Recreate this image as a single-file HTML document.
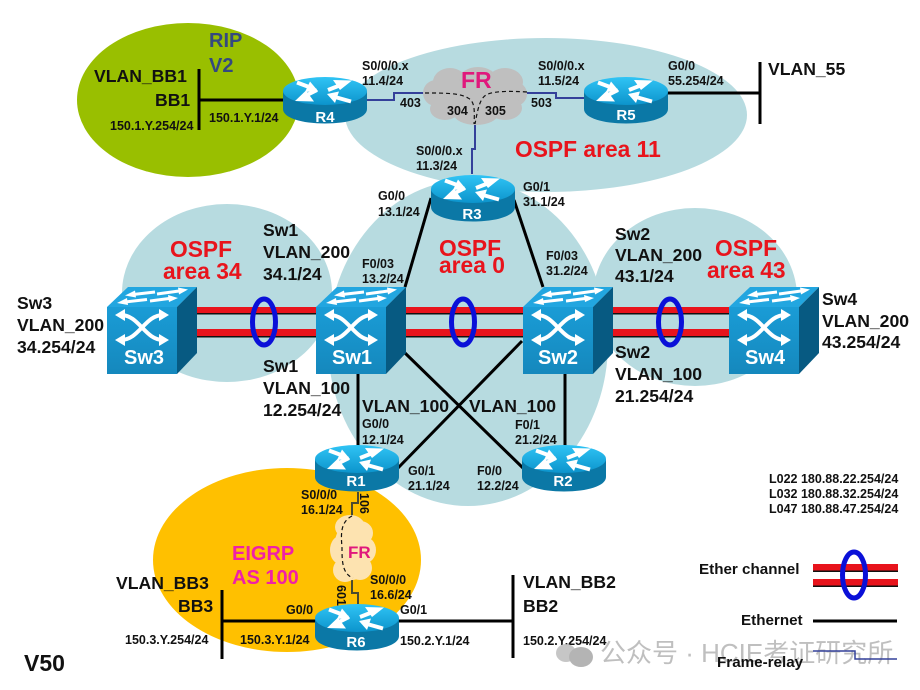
<!DOCTYPE html>
<html><head><meta charset="utf-8">
<style>
html,body{margin:0;padding:0;background:#fff;width:920px;height:690px;overflow:hidden}
svg{display:block}
text{font-family:"Liberation Sans","Noto Sans CJK SC",sans-serif;font-weight:bold;fill:#111}
.s{font-size:12.5px}.m{font-size:17.6px}.r{fill:#e8141c;font-size:22.8px}.w{fill:#fff;font-size:15px;text-anchor:middle}.sw{fill:#fff;font-size:20px;text-anchor:middle}.l{font-size:15.2px}
</style></head><body>
<svg width="920" height="690" viewBox="0 0 920 690" xmlns="http://www.w3.org/2000/svg">
<defs>
<linearGradient id="rt" x1="0" y1="0" x2="0" y2="1"><stop offset="0" stop-color="#30c4f5"/><stop offset="1" stop-color="#0c94cc"/></linearGradient>
<linearGradient id="swf" x1="0" y1="0" x2="0" y2="1"><stop offset="0" stop-color="#1a9cd6"/><stop offset="1" stop-color="#1588bd"/></linearGradient>
<g id="router">
<path d="M0,14V32C0,41 19,46.500 42,46.500S84,41 84,32V14Z" fill="#0b78a6"/>
<ellipse cx="42" cy="14" rx="42" ry="14" fill="url(#rt)"/>
<g stroke="#fff" stroke-width="4" fill="none">
<path d="M45,13L59,7.500"/>
<path d="M34,13L22,19"/>
<path d="M14,5.500L26,10"/>
<path d="M68,24.500L52,20"/>
</g>
<g fill="#fff">
<path d="M69,3.500L50,3L57,13Z"/>
<path d="M12,24L31,24.500L23,13.500Z"/>
<path d="M35,14L22,15L27,4.500Z"/>
<path d="M44,17L56,14.500L52,26Z"/>
</g>
</g>
<g id="switch">
<path d="M0,21L21,1H90L70,21Z" fill="#22a6e0"/>
<path d="M70,21L90,1V67L70,88Z" fill="#075a82"/>
<rect x="0" y="21" width="70" height="67" fill="url(#swf)"/>
<g stroke="#fff" stroke-width="3" fill="none">
<path d="M26,8.500L48,6"/>
<path d="M50,8L72,5"/>
<path d="M18,16L40,13.500"/>
<path d="M43,15L62,12.500"/>
</g>
<g fill="#fff">
<path d="M18,9.500L28,4.500L29,11.500Z"/>
<path d="M81,3.500L71,1.500L72,8.500Z"/>
<path d="M10,17L20,12L21,19Z"/>
<path d="M71,12L61,9L62,16Z"/>
</g>
<g fill="none" stroke="#fff" stroke-width="4">
<path d="M14,29C32,29 38,54 56,54"/>
<path d="M14,54C32,54 38,29 56,29"/>
</g>
<g fill="#fff">
<path d="M8,29L18,23V35Z"/><path d="M62,29L52,23V35Z"/>
<path d="M8,54L18,48V60Z"/><path d="M62,54L52,48V60Z"/>
</g>
</g>
</defs>

<rect width="920" height="690" fill="#fff"/>

<!-- regions -->
<ellipse cx="188" cy="100" rx="111" ry="77" fill="#99bf00"/>
<ellipse cx="546" cy="115" rx="201" ry="77" fill="#b7dbe0"/>
<ellipse cx="227" cy="293" rx="105" ry="89" fill="#b7dbe0"/>
<ellipse cx="468" cy="343" rx="140" ry="163" fill="#b7dbe0"/>
<ellipse cx="695" cy="297" rx="102" ry="89" fill="#b7dbe0"/>
<ellipse cx="287" cy="560" rx="134" ry="92" fill="#ffc000"/>

<!-- ethernet lines -->
<g stroke="#000" stroke-width="3" fill="none">
<path d="M199,69V130M199,100H283"/>
<path d="M667,93H760M760,62V124"/>
<path d="M431,198L405,287M514,200L543,287"/>
<path d="M358,374V447M565,374V447"/>
<path d="M405,353L523,468M522,341L398,468"/>
<path d="M222,590V659M222,621H315M398,621H513M513,575V658"/>
</g>

<!-- ether channels -->
<g>
<g fill="#e8141c" stroke="none">
<rect x="197" y="307" width="119" height="6"/><rect x="197" y="329" width="119" height="7"/>
<rect x="405" y="307" width="118" height="6"/><rect x="405" y="329" width="118" height="7"/>
<rect x="612" y="307" width="117" height="6"/><rect x="612" y="329" width="117" height="7"/>
</g>
<g fill="#111">
<rect x="197" y="313" width="119" height="1.500"/><rect x="197" y="336" width="119" height="1.500"/>
<rect x="405" y="313" width="118" height="1.500"/><rect x="405" y="336" width="118" height="1.500"/>
<rect x="612" y="313" width="117" height="1.500"/><rect x="612" y="336" width="117" height="1.500"/>
</g>
<g fill="none" stroke="#0a10d8" stroke-width="5">
<ellipse cx="264" cy="322" rx="11.500" ry="23"/>
<ellipse cx="463" cy="322" rx="11.500" ry="23"/>
<ellipse cx="670" cy="322" rx="11.500" ry="23"/>
</g>
</g>

<!-- frame relay lines -->
<g fill="none" stroke="#34409a" stroke-width="2">
<path d="M366,100H394V93H425"/>
<path d="M527,93H556V98H584"/>
<path d="M475,123V149H472V174"/>
</g>
<g fill="none" stroke="#4a4a30" stroke-width="2">
<path d="M358,492V503H352V516"/>
<path d="M352,580V593H358V604"/>
</g>

<!-- FR cloud top -->
<g fill="#bfbfbf">
<ellipse cx="476" cy="96" rx="46" ry="22"/>
<ellipse cx="450" cy="82" rx="17" ry="14"/>
<ellipse cx="478" cy="80" rx="19" ry="13"/>
<ellipse cx="505" cy="82" rx="18" ry="14"/>
<ellipse cx="436" cy="93" rx="13" ry="13"/>
<ellipse cx="515" cy="94" rx="12" ry="12"/>
<ellipse cx="445" cy="109" rx="15" ry="11"/>
<ellipse cx="476" cy="114" rx="22" ry="11"/>
<ellipse cx="505" cy="108" rx="17" ry="12"/>
</g>
<g fill="none" stroke="#111" stroke-width="1.200" stroke-dasharray="4 3">
<path d="M425,93C445,93 460,93 468,98C474,101 475,108 474,124"/>
<path d="M527,92C510,91 496,91 488,94C480,97 478,108 475,124"/>
</g>

<!-- FR cloud bottom -->
<g fill="#fde3b0">
<ellipse cx="352" cy="550" rx="18" ry="30"/>
<ellipse cx="350" cy="527" rx="15" ry="12"/>
<ellipse cx="360" cy="533" rx="13" ry="12"/>
<ellipse cx="340" cy="550" rx="10" ry="14"/>
<ellipse cx="365" cy="550" rx="11" ry="13"/>
<ellipse cx="345" cy="570" rx="12" ry="12"/>
<ellipse cx="360" cy="568" rx="12" ry="12"/>
</g>
<path d="M352,516C340,522 341,535 342,548C342,560 342,574 353,578" fill="none" stroke="#111" stroke-width="1.200" stroke-dasharray="4 3"/>

<!-- devices -->
<use href="#router" x="283" y="77"/>
<use href="#router" x="584" y="77"/>
<use href="#router" x="431" y="175"/>
<use href="#router" x="315" y="445"/>
<use href="#router" x="522" y="445"/>
<use href="#router" x="315" y="604"/>
<use href="#switch" x="107" y="286"/>
<use href="#switch" x="316" y="286"/>
<use href="#switch" x="523" y="286"/>
<use href="#switch" x="729" y="286"/>

<text class="w" x="325" y="122">R4</text>
<text class="w" x="626" y="120">R5</text>
<text class="w" x="472" y="219">R3</text>
<text class="w" x="356" y="486">R1</text>
<text class="w" x="563" y="486">R2</text>
<text class="w" x="356" y="647">R6</text>
<text class="sw" x="144" y="364">Sw3</text>
<text class="sw" x="352" y="364">Sw1</text>
<text class="sw" x="558" y="364">Sw2</text>
<text class="sw" x="765" y="364">Sw4</text>

<!-- labels -->
<text x="209" y="47" style="font-size:20px;fill:#34497f">RIP</text>
<text x="209" y="72" style="font-size:20px;fill:#34497f">V2</text>
<text class="m" x="94" y="82">VLAN_BB1</text>
<text class="m" x="155" y="106">BB1</text>
<text class="s" x="110" y="130">150.1.Y.254/24</text>
<text class="s" x="209" y="122">150.1.Y.1/24</text>

<text class="s" x="362" y="70">S0/0/0.x</text>
<text class="s" x="362" y="85">11.4/24</text>
<text class="s" x="400" y="107">403</text>
<text x="461" y="88" style="font-size:23px;fill:#e0187c">FR</text>
<text class="s" x="447" y="115">304</text>
<text class="s" x="485" y="115">305</text>
<text class="s" x="531" y="107">503</text>
<text class="s" x="538" y="70">S0/0/0.x</text>
<text class="s" x="538" y="85">11.5/24</text>
<text class="s" x="668" y="70">G0/0</text>
<text class="s" x="668" y="85">55.254/24</text>
<text class="m" x="768" y="75">VLAN_55</text>
<text class="r" x="515" y="157">OSPF area 11</text>

<text class="s" x="416" y="155">S0/0/0.x</text>
<text class="s" x="416" y="170">11.3/24</text>
<text class="s" x="378" y="200">G0/0</text>
<text class="s" x="378" y="216">13.1/24</text>
<text class="s" x="523" y="191">G0/1</text>
<text class="s" x="523" y="206">31.1/24</text>

<text class="m" x="263" y="236">Sw1</text>
<text class="m" x="263" y="258">VLAN_200</text>
<text class="m" x="263" y="280">34.1/24</text>
<text class="r" x="170" y="257">OSPF</text>
<text class="r" x="163" y="279">area 34</text>
<text class="r" x="439" y="256">OSPF</text>
<text class="r" x="439" y="273">area 0</text>
<text class="s" x="362" y="268">F0/03</text>
<text class="s" x="362" y="283">13.2/24</text>
<text class="s" x="546" y="260">F0/03</text>
<text class="s" x="546" y="275">31.2/24</text>

<text class="m" x="615" y="240">Sw2</text>
<text class="m" x="615" y="261">VLAN_200</text>
<text class="m" x="615" y="282">43.1/24</text>
<text class="r" x="715" y="256">OSPF</text>
<text class="r" x="707" y="278">area 43</text>
<text class="m" x="822" y="305">Sw4</text>
<text class="m" x="822" y="327">VLAN_200</text>
<text class="m" x="822" y="348">43.254/24</text>
<text class="m" x="17" y="309">Sw3</text>
<text class="m" x="17" y="331">VLAN_200</text>
<text class="m" x="17" y="353">34.254/24</text>

<text class="m" x="263" y="372">Sw1</text>
<text class="m" x="263" y="394">VLAN_100</text>
<text class="m" x="263" y="416">12.254/24</text>
<text class="m" x="615" y="358">Sw2</text>
<text class="m" x="615" y="380">VLAN_100</text>
<text class="m" x="615" y="402">21.254/24</text>
<text class="m" x="362" y="412">VLAN_100</text>
<text class="m" x="469" y="412">VLAN_100</text>

<text class="s" x="362" y="428">G0/0</text>
<text class="s" x="362" y="444">12.1/24</text>
<text class="s" x="515" y="429">F0/1</text>
<text class="s" x="515" y="444">21.2/24</text>
<text class="s" x="408" y="475">G0/1</text>
<text class="s" x="408" y="490">21.1/24</text>
<text class="s" x="477" y="475">F0/0</text>
<text class="s" x="477" y="490">12.2/24</text>

<text class="s" x="769" y="483">L022 180.88.22.254/24</text>
<text class="s" x="769" y="498">L032 180.88.32.254/24</text>
<text class="s" x="769" y="513">L047 180.88.47.254/24</text>

<text class="s" x="301" y="499">S0/0/0</text>
<text class="s" x="301" y="514">16.1/24</text>
<text class="s" transform="translate(360,493) rotate(90)">106</text>
<text class="s" transform="translate(337,585) rotate(90)">601</text>
<text x="348" y="558" style="font-size:17px;fill:#e0187c">FR</text>
<text x="232" y="560" style="font-size:20px;fill:#f020a8">EIGRP</text>
<text x="232" y="584" style="font-size:20px;fill:#f020a8">AS 100</text>
<text class="s" x="370" y="584">S0/0/0</text>
<text class="s" x="370" y="599">16.6/24</text>
<text class="s" x="286" y="614">G0/0</text>
<text class="s" x="400" y="614">G0/1</text>
<text class="m" x="116" y="589">VLAN_BB3</text>
<text class="m" x="178" y="612">BB3</text>
<text class="s" x="125" y="644">150.3.Y.254/24</text>
<text class="s" x="240" y="644">150.3.Y.1/24</text>
<text class="s" x="400" y="645">150.2.Y.1/24</text>
<text class="m" x="523" y="588">VLAN_BB2</text>
<text class="m" x="523" y="612">BB2</text>
<text class="s" x="523" y="645">150.2.Y.254/24</text>
<text x="24" y="671" style="font-size:23px">V50</text>

<!-- watermark (behind legend labels) -->
<g fill="#bdbdbd" opacity=".85">
<ellipse cx="566" cy="653" rx="10" ry="9"/>
<ellipse cx="581" cy="657" rx="12" ry="10" fill="#a8a8a8"/>
</g>
<text x="600" y="662" style="font-size:26px;font-weight:normal;fill:#aaa;opacity:.75">公众号 · HCIE考证研究所</text>

<!-- legend -->
<text class="l" x="699" y="574">Ether channel</text>
<text class="l" x="741" y="625">Ethernet</text>
<text class="l" x="717" y="667">Frame-relay</text>
<g fill="#e8141c"><rect x="813" y="564" width="85" height="6.500"/><rect x="813" y="579" width="85" height="6.500"/></g>
<g fill="#111"><rect x="813" y="570.500" width="85" height="1.500"/><rect x="813" y="585.500" width="85" height="1.500"/></g>
<ellipse cx="854" cy="575" rx="11.500" ry="23" fill="none" stroke="#0a10d8" stroke-width="5"/>
<path d="M813,621H897" stroke="#000" stroke-width="3" fill="none"/>
<path d="M813,651H855V659H897" stroke="#34409a" stroke-width="1.500" fill="none"/>
</svg>
</body></html>
